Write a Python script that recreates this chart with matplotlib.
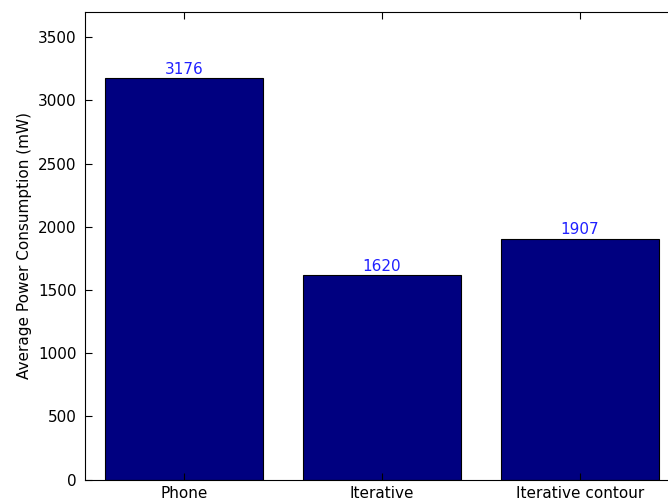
import matplotlib
matplotlib.use("Agg")
import matplotlib.pyplot as plt

categories = ["Phone", "Iterative", "Iterative contour"]
power_mw = [3176, 1620, 1907]

plt.rcParams['font.family'] = ['DejaVu Sans']

fig = plt.figure(figsize=(6.68, 5.04), dpi=100)
# axes runs past the right edge of the picture, like the cropped original
ax = fig.add_axes([85 / 668, 1 - 479.5 / 504, 594 / 668, 467.5 / 504])

x = list(range(1, len(categories) + 1))
ax.bar(x, power_mw, width=0.8, color='#000080', edgecolor='black', linewidth=0.8)

for xi, v in zip(x, power_mw):
    ax.text(xi, v + 10, str(v), ha='center', va='bottom', color='#2020FF', fontsize=11)

ax.set_xlim(0.5, 3.5)
ax.set_ylim(0, 3700)
ax.set_yticks(range(0, 3501, 500))
ax.set_xticks(x)
ax.set_xticklabels(categories)
ax.tick_params(direction='in', length=5, labelsize=11, top=True, right=True, width=0.8)
ax.tick_params(axis='x', pad=5)
ax.tick_params(axis='y', pad=6)
ax.set_ylabel("Average Power Consumption (mW)", fontsize=11, labelpad=4)
for s in ax.spines.values():
    s.set_linewidth(0.8)

fig.savefig("out.png", dpi=100)
